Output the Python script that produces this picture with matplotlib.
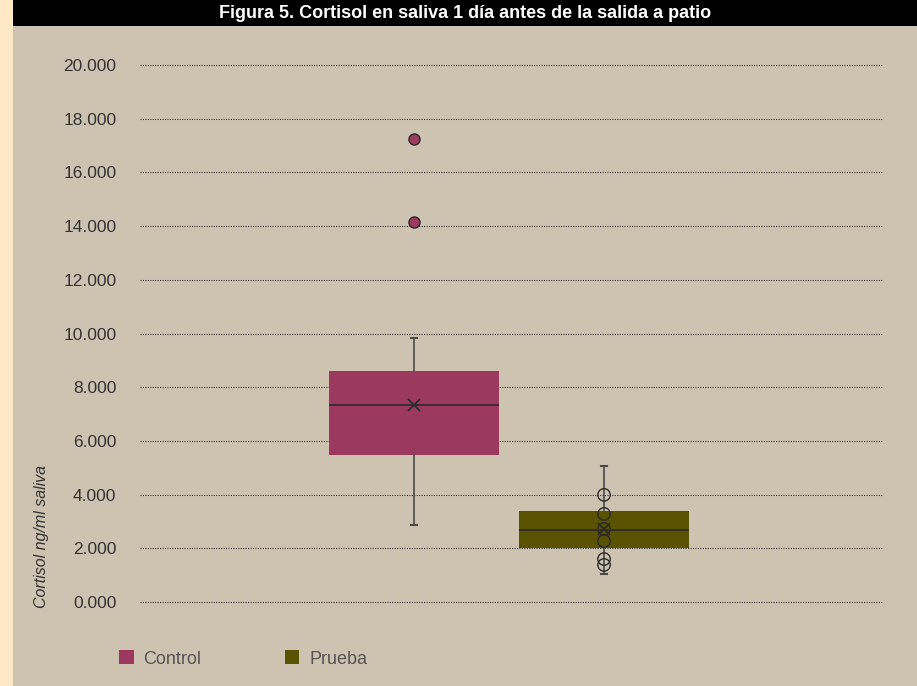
import matplotlib
matplotlib.use("Agg")
import matplotlib.pyplot as plt
from matplotlib.patches import Rectangle, Patch

plt.rcParams['font.family'] = ['Liberation Sans', 'DejaVu Sans']

title = "Figura 5. Cortisol en saliva 1 día antes de la salida a patio"
groups = ["Control", "Prueba"]
colors = ["#9B3A5E", "#5A5200"]
q1 = [5.47, 2.01]
median = [7.34, 2.68]
q3 = [8.60, 3.39]
whis_lo = [2.87, 1.04]
whis_hi = [9.83, 5.07]
means = [7.34, 2.72]
control_outliers = [17.24, 14.15]
prueba_points = [3.99, 3.28, 2.72, 2.27, 1.60, 1.38]
yticks = [0, 2, 4, 6, 8, 10, 12, 14, 16, 18, 20]
ytick_labels = ["0.000", "2.000", "4.000", "6.000", "8.000", "10.000",
                "12.000", "14.000", "16.000", "18.000", "20.000"]

W, H = 917, 686
fig = plt.figure(figsize=(W / 100, H / 100), dpi=100, facecolor="#CEC3B0")
# left cream strip and top black band
fig.patches.append(Rectangle((0, 0), 13 / W, 1, transform=fig.transFigure,
                             facecolor="#FFE8C6", edgecolor="none", zorder=0))
fig.patches.append(Rectangle((13 / W, (H - 26) / H), 1, 26 / H, transform=fig.transFigure,
                             facecolor="black", edgecolor="none", zorder=0))
fig.text(465 / W, (H - 13) / H, title, color="white", fontsize=13, fontweight="bold",
         ha="center", va="center")

ax = fig.add_axes([140 / W, (H - 602) / H, (883 - 140) / W, (602 - 65) / H])
ax.set_facecolor("none")
for s in ax.spines.values():
    s.set_visible(False)

positions = [1, 2]
stats = []
for i, g in enumerate(groups):
    stats.append(dict(label=g, q1=q1[i], med=median[i], q3=q3[i],
                      whislo=whis_lo[i], whishi=whis_hi[i], mean=means[i],
                      fliers=control_outliers if i == 0 else []))

bp = ax.bxp(stats, positions=positions, widths=0.895, patch_artist=True,
            showmeans=True, meanline=False, showfliers=True, capwidths=0.035,
            boxprops=dict(edgecolor="none", linewidth=0),
            medianprops=dict(color="#2a2a2a", linewidth=1.2),
            whiskerprops=dict(color="#4a4a4a", linewidth=1.2),
            capprops=dict(color="#4a4a4a", linewidth=1.5),
            meanprops=dict(marker="x", markeredgecolor="#2a2a2a", markersize=9,
                           markeredgewidth=1.3),
            flierprops=dict(marker="o", markerfacecolor=colors[0],
                            markeredgecolor="#2a2a2a", markersize=8,
                            markeredgewidth=1.0))
for patch, c in zip(bp["boxes"], colors):
    patch.set_facecolor(c)
    patch.set_zorder(2)
for k in ["medians", "whiskers", "caps", "means", "fliers"]:
    for a in bp[k]:
        a.set_zorder(3)

ax.scatter([positions[1]] * len(prueba_points), prueba_points, s=80,
           facecolors="none", edgecolors="#2a2a2a", linewidths=1.0, zorder=4)

ax.set_xlim(-0.442, 3.468)
ax.set_ylim(0, 20)
ax.set_yticks(yticks)
ax.set_yticklabels(ytick_labels)
ax.set_xticks([])
ax.tick_params(axis="y", length=0, pad=17, labelsize=12.5, labelcolor="#333333")
ax.yaxis.grid(True, linestyle=(0, (1, 1.2)), color="#333333", linewidth=0.8, zorder=1)
ax.set_axisbelow(True)
for gl in ax.get_ygridlines():
    gl.set_clip_on(False)

fig.text(42 / W, (H - 536) / H, "Cortisol ng/ml saliva", rotation=90, style="italic",
         fontsize=11.5, color="#333333", ha="center", va="center")

handles = [Patch(facecolor=c, edgecolor="none") for c in colors]
fig.legend(handles, groups, loc="center left", bbox_to_anchor=(103 / W, (H - 659) / H),
           ncol=2, frameon=False, fontsize=13, labelcolor="#555555",
           handlelength=0.8, handleheight=0.8, handletextpad=0.55, columnspacing=4.6)

fig.savefig("out.png", dpi=100, facecolor=fig.get_facecolor())
